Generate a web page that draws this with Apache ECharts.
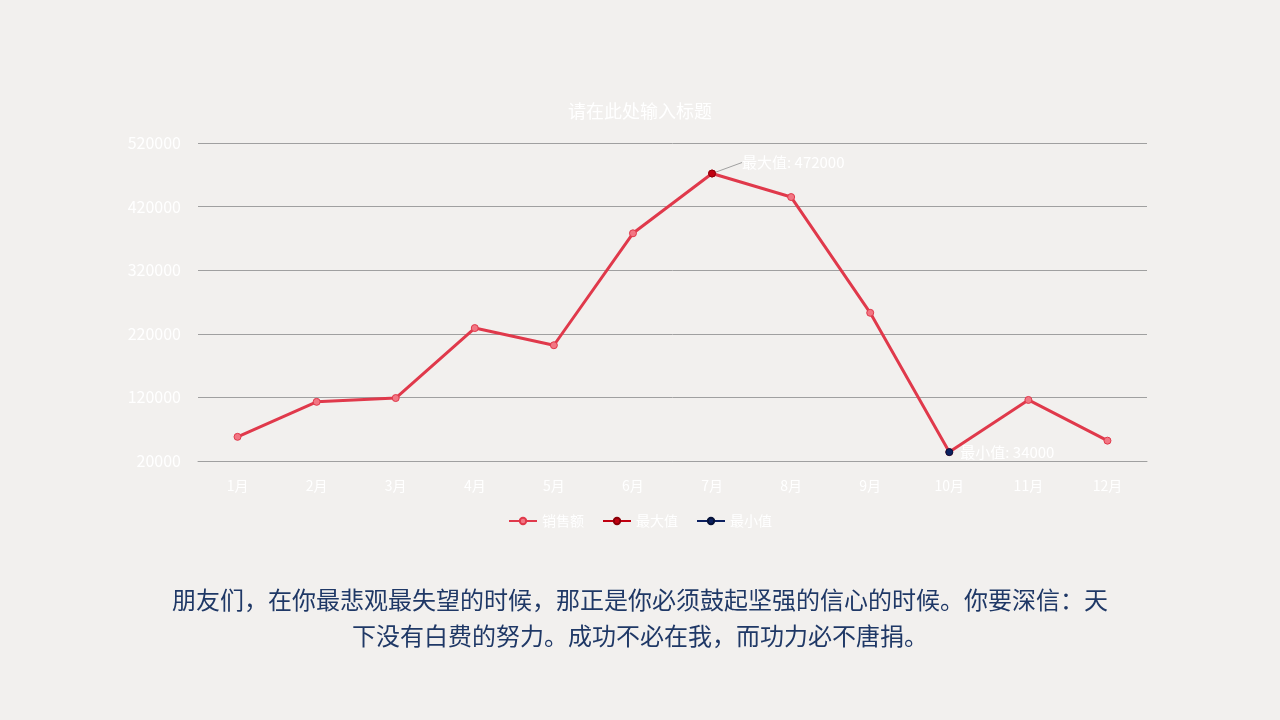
<!DOCTYPE html>
<html><head><meta charset="utf-8">
<style>html,body{margin:0;padding:0;background:#f2f0ee;}#c{width:1280px;height:720px;}</style>
<script src="https://cdn.jsdelivr.net/npm/echarts@6/dist/echarts.min.js"></script>
</head><body><div id="c"></div>
<script>
const months = ['1月','2月','3月','4月','5月','6月','7月','8月','9月','10月','11月','12月'];
const sales = [58000, 113000, 119000, 229000, 202000, 378000, 472000, 435000, 253000, 34000, 116000, 52000];
const maxData = ['-', '-', '-', '-', '-', '-', 472000, '-', '-', '-', '-', '-'];
const minData = ['-', '-', '-', '-', '-', '-', '-', '-', '-', 34000, '-', '-'];
const titleText = '请在此处输入标题';
const bodyLine1 = '朋友们，在你最悲观最失望的时候，那正是你必须鼓起坚强的信心的时候。你要深信：天';
const bodyLine2 = '下没有白费的努力。成功不必在我，而功力必不唐捐。';

const FONT = '"Noto Sans CJK SC", "Noto Sans", sans-serif';
const chart = echarts.init(document.getElementById('c'));
chart.setOption({
  backgroundColor: '#f2f0ee',
  textStyle: {fontFamily: FONT},
  title: {text: titleText, left: 'center', top: 97, textStyle: {color: '#ffffff', fontSize: 18, fontWeight: 'normal', fontFamily: FONT}},
  legend: {
    top: 509, left: 'center', itemWidth: 28, itemHeight: 8, itemGap: 18,
    textStyle: {color: '#ffffff', fontSize: 14, fontFamily: FONT},
    data: ['销售额', '最大值', '最小值']
  },
  grid: {left: 198, right: 133, top: 143, bottom: 259},
  xAxis: {
    type: 'category', data: months, boundaryGap: true,
    axisLine: {show: true, lineStyle: {color: '#a0a0a0'}},
    axisTick: {show: false},
    axisLabel: {color: '#ffffff', fontSize: 14, margin: 18, fontFamily: FONT}
  },
  yAxis: {
    type: 'value', min: 20000, max: 520000, interval: 100000,
    axisLine: {show: false}, axisTick: {show: false},
    axisLabel: {color: '#ffffff', fontSize: 16, margin: 17, fontFamily: FONT, formatter: v => String(v)},
    splitLine: {lineStyle: {color: '#a0a0a0', width: 1}}
  },
  series: [
    {
      name: '销售额', type: 'line', data: sales, z: 2,
      symbol: 'circle', symbolSize: 7,
      lineStyle: {color: '#e0394b', width: 3},
      itemStyle: {color: '#f27683', borderColor: '#e0394b', borderWidth: 1}
    },
    {
      name: '最大值', type: 'line', data: maxData, z: 3,
      symbol: 'circle', symbolSize: 7,
      lineStyle: {color: '#c00010', width: 3},
      itemStyle: {color: '#c00010', borderColor: '#8a0008', borderWidth: 1},
      label: {show: true, position: 'right', distance: 4, color: '#ffffff', fontSize: 15, fontFamily: FONT,
        formatter: p => '最大值: ' + p.value},
      labelLayout: {dx: 22, dy: -11},
      labelLine: {show: true, lineStyle: {color: '#a0a0a0', width: 1}}
    },
    {
      name: '最小值', type: 'line', data: minData, z: 3,
      symbol: 'circle', symbolSize: 7,
      lineStyle: {color: '#0c2060', width: 3},
      itemStyle: {color: '#0c2060', borderColor: '#061238', borderWidth: 1},
      label: {show: true, position: 'right', distance: 7, color: '#ffffff', fontSize: 15, fontFamily: FONT,
        formatter: p => '最小值: ' + p.value}
    }
  ],
  graphic: [
    {type: 'text', x: 640, y: 600, style: {text: bodyLine1, fill: '#1f3866', fontSize: 24, align: 'center', verticalAlign: 'middle', fontFamily: FONT}},
    {type: 'text', x: 640, y: 636, style: {text: bodyLine2, fill: '#1f3866', fontSize: 24, align: 'center', verticalAlign: 'middle', fontFamily: FONT}}
  ]
});
</script></body></html>
